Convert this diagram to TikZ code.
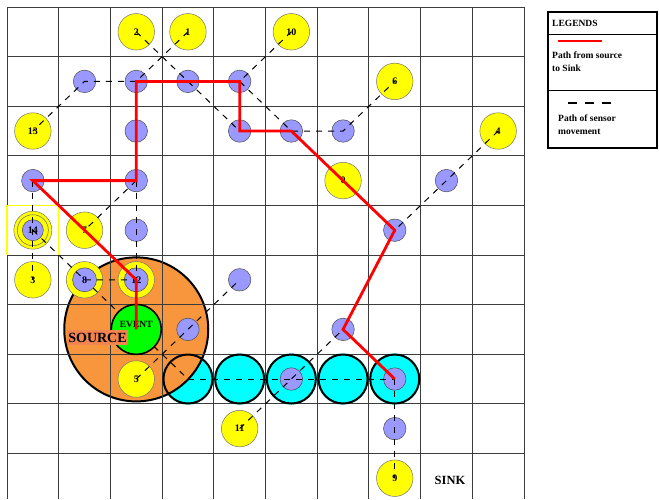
\documentclass[tikz,border=0pt]{standalone}
\usepackage{fontspec}
\setmainfont{Liberation Serif}
\definecolor{yel}{HTML}{FFFF00}
\definecolor{blu}{HTML}{9999FF}
\definecolor{cya}{HTML}{00FFFF}
\definecolor{org}{HTML}{F7963C}
\definecolor{grn}{HTML}{00FF00}
\definecolor{sal}{HTML}{F2844F}
\definecolor{gridc}{HTML}{3C3C3C}
\newcommand\numfont{\bfseries\fontsize{10}{10}\selectfont}
\tikzset{
  gridline/.style={draw=gridc, line width=1pt},
  ysens/.style={circle, fill=yel, draw=black!55, line width=0.5pt, minimum size=36.5pt, inner sep=0pt, font=\numfont},
  bsens/.style={circle, fill=blu, draw=black!70, line width=0.5pt, minimum size=22.5pt, inner sep=0pt, font=\numfont},
  ringline/.style={circle, draw=black!60, line width=0.5pt, inner sep=0pt},
  cyfill/.style={circle, fill=cya, minimum size=51pt, inner sep=0pt},
  cyline/.style={draw=black, line width=2pt},
  movepath/.style={draw=black, line width=1pt, dash pattern=on 6pt off 6pt},
  redpath/.style={draw=red, line width=2.8pt, line join=miter},
  legtext/.style={font=\bfseries\fontsize{9.5}{13}\selectfont, inner sep=1pt, align=left},
}
\begin{document}
\begin{tikzpicture}[x=1pt, y=-1pt]
\useasboundingbox (0,0) rectangle (659,499);
\fill[white] (0,0) rectangle (659,499);
% cell centres
\foreach \c in {0,...,9}{\foreach \r in {0,...,9}{
  \coordinate (g\c-\r) at ({32.85+51.7*\c},{31.8+49.6*\r});}}
% cyan fills
\foreach \c in {3,...,7}{\node[cyfill] (c\c) at (g\c-7) {};}
% orange source area
\node[circle, fill=org, draw=black, line width=2pt, minimum size=144pt, inner sep=0pt] (src) at (g2-6) {};
% grid
\foreach \i in {0,...,10}{\draw[gridline] ({7+51.7*\i},7) -- ({7+51.7*\i},499);}
\foreach \j in {0,...,9}{\draw[gridline] (7,{7+49.6*\j}) -- (524,{7+49.6*\j});}
\draw[yel, line width=1.1pt] (7,254.8) -- (7,205.4) -- (58.7,205.4) -- (58.7,254.8);
% cyan outlines
\foreach \c in {3,...,7}{\draw[cyline] (c\c.center) circle (24.5pt);}
% yellow sensors
\node[ysens] (y0) at (g6-3) {0};
\node[ysens] (y1) at (g3-0) {1};
\node[ysens] (y2) at (g2-0) {2};
\node[ysens] (y3) at (g0-5) {3};
\node[ysens] (y4) at (g9-2) {4};
\node[ysens] (y5) at (g2-7) {5};
\node[ysens] (y6) at (g7-1) {6};
\node[ysens] (y7) at (g1-4) {7};
\node[ysens] (y8) at (g1-5) {};
\node[ysens] (y9) at (g7-9) {9};
\node[ysens] (y10) at (g5-0) {10};
\node[ysens] (y11) at (g4-8) {11};
\node[ysens] (y12) at (g2-5) {};
\node[ysens] (y13) at (g0-2) {13};
\node[ysens, minimum size=38pt] (y14) at (g0-4) {};
\node[ringline, minimum size=31pt] (r14) at (g0-4) {};
% event position (for the dashed line under the event disc)
\coordinate (evc) at (g2-6);
\draw[movepath] (y8.center) -- (evc) -- (c3.center);
% event
\node[circle, fill=grn, draw=black, line width=1.6pt, minimum size=50pt, inner sep=0pt] (ev) at (evc) {};
\node[font=\bfseries\fontsize{9.5}{10}\selectfont, inner sep=0pt] (evtxt) at ([yshift=5pt]ev.center) {EVENT};
\node[fill=sal, font=\bfseries\fontsize{14}{14}\selectfont, inner xsep=1.5pt, inner ysep=2.5pt, text height=9.6pt, text depth=0pt] (srctxt) at (97.5,337.5) {SOURCE};
% blue sensors
\node[bsens, minimum size=21pt] (b14) at (g0-4) {14};
\node[bsens, minimum size=24pt] (b15) at (g1-5) {8};
\node[bsens, minimum size=24pt] (b25) at (g2-5) {12};
\foreach \c/\r in {1/1,2/1,3/1,4/1,2/2,4/2,5/2,6/2,0/3,2/3,8/3,2/4,7/4,4/5,3/6,6/6,5/7,7/7,7/8}{
  \node[bsens] (b\c\r) at (g\c-\r) {};}
% paths of sensor movement
\draw[movepath] (y2.center) -- (b31.center) -- (b42.center);
\draw[movepath] (y1.center) -- (b21.center) -- (b11.center) -- (y13.center);
\draw[movepath] (y10.center) -- (b41.center) -- (b52.center) -- (b62.center) -- (y6.center);
\draw[movepath] (y4.center) -- (b83.center) -- (b74.center);
\draw[movepath] (b03.center) -- (y14.center) -- (y3.center);
\draw[movepath] (b23.center) -- (y7.center);
\draw[movepath] (b23.center) -- (b24.center) -- (y12.center);
\draw[movepath] (y14.center) -- (y8.center) -- (y12.center);
\draw[movepath] (y5.center) -- (b36.center) -- (b45.center);
\draw[movepath] (c3.center) -- (c7.center);
\draw[movepath] (y11.center) -- (b57.center) -- (b66.center);
\draw[movepath] (b77.center) -- (b78.center) -- (y9.center);
% path from source to sink
\draw[redpath] (ev.center) -- (y12.center) -- (b03.center) -- (b23.center) -- (b21.center)
  -- (b41.center) -- (b42.center) -- (b52.center) -- (b74.center) -- (b66.center) -- (b77.center);
\node[font=\bfseries\fontsize{12.5}{12.5}\selectfont, inner sep=0pt] (sink) at (450,480) {SINK};
% legend
\draw[line width=1.2pt] (548,12) rectangle (657,148);
\draw[line width=1pt] (548,34) -- (657,34);
\draw[line width=1pt] (548,90) -- (657,90);
\node[legtext, anchor=west] (lgtitle) at (551,23) {LEGENDS};
\draw[red, line width=1.8pt] (558,41) -- (602,41);
\node[legtext, anchor=north west] (lgred) at (551,51) {Path from source\\to Sink};
\draw[line width=1.5pt, dash pattern=on 9pt off 8pt] (568,103) -- (611,103);
\node[legtext, anchor=north west] (lgdash) at (557,114) {Path of sensor\\movement};
\end{tikzpicture}
\end{document}
